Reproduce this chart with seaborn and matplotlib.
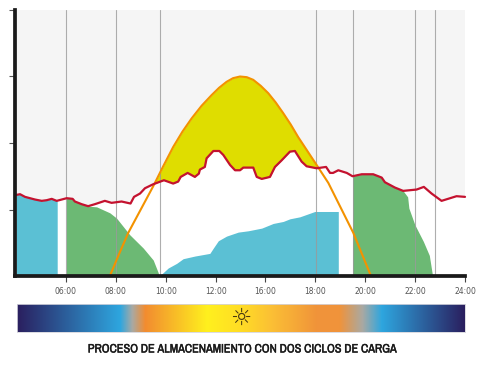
# almacenamiento chart: sun curve, consumption line and two charge cycles

import numpy as np
import pandas as pd
import matplotlib
matplotlib.use('Agg')
import matplotlib.pyplot as plt
import matplotlib.patheffects as pe
from matplotlib import font_manager
from matplotlib.colors import LinearSegmentedColormap
import seaborn as sns

# values (axis hours, axis units)
consumo_h = [4.02, 4.16, 4.36, 4.56, 4.76, 5.03, 5.23, 5.43, 5.63, 5.83, 6.03, 6.27, 6.36, 6.63, 6.89,
             7.16, 7.56, 7.83, 8.23, 8.59, 8.73, 8.97, 9.17, 9.50, 9.93, 10.30, 10.50, 10.60, 10.88,
             11.17, 11.33, 11.37, 11.57, 11.64, 11.91, 12.15, 12.31, 12.58, 12.78, 12.98, 13.11, 13.51,
             13.65, 13.85, 14.18, 14.38, 14.65, 14.98, 15.18, 15.45, 15.65, 16.05, 16.43, 16.59, 16.71,
             16.92, 17.26, 17.49, 17.86, 18.32, 18.66, 18.79, 19.19, 19.52, 20.06, 20.35, 20.66, 21.06,
             21.66, 22.0]
consumo_v = [1.22, 1.23, 1.19, 1.17, 1.15, 1.13, 1.14, 1.16, 1.13, 1.15, 1.17, 1.16, 1.12, 1.08, 1.05,
             1.08, 1.13, 1.10, 1.12, 1.09, 1.19, 1.24, 1.32, 1.38, 1.44, 1.39, 1.42, 1.49, 1.55,
             1.49, 1.54, 1.60, 1.64, 1.77, 1.88, 1.88, 1.82, 1.67, 1.59, 1.59, 1.63, 1.63,
             1.49, 1.46, 1.49, 1.64, 1.74, 1.87, 1.88, 1.72, 1.65, 1.62, 1.64, 1.55, 1.55,
             1.59, 1.55, 1.50, 1.53, 1.53, 1.48, 1.41, 1.33, 1.28, 1.30, 1.34, 1.24, 1.13,
             1.20, 1.19]

sol_h = [7.76, 8.13, 8.50, 9.00, 9.50, 9.90, 10.30, 10.67, 11.04, 11.44, 11.84, 12.14, 12.44, 12.70, 12.98,
         13.25, 13.51, 13.81, 14.11, 14.41, 14.71, 15.01, 15.31, 15.68, 16.05, 16.52, 17.00, 17.52, 17.88, 18.23]
sol_v = [0, 0.33, 0.65, 1.00, 1.35, 1.65, 1.94, 2.17, 2.37, 2.56, 2.72, 2.83, 2.92, 2.975, 3.00,
         2.99, 2.95, 2.86, 2.75, 2.61, 2.45, 2.28, 2.09, 1.88, 1.67, 1.40, 1.04, 0.65, 0.32, 0]

verde1_h = [6.02, 6.27, 6.36, 6.63, 6.89, 7.23, 7.76, 8.03, 8.56, 9.10, 9.50, 9.70, 9.73]
verde1_v = [1.17, 1.16, 1.12, 1.08, 1.05, 1.04, 0.95, 0.87, 0.62, 0.42, 0.24, 0.05, 0]
verde2_h = [17.49, 17.86, 18.32, 18.66, 18.79, 19.19, 19.52, 19.70, 19.75, 19.99, 20.33, 20.57, 20.70]
verde2_v = [1.50, 1.53, 1.53, 1.48, 1.41, 1.33, 1.28, 1.19, 1.02, 0.77, 0.52, 0.31, 0]

azul1_h = [4.0, 4.16, 4.36, 4.56, 4.76, 5.03, 5.23, 5.43, 5.65]
azul1_v = [1.22, 1.23, 1.19, 1.17, 1.15, 1.13, 1.14, 1.16, 1.13]
azul2_h = [9.81, 9.84, 10.10, 10.44, 10.70, 11.17, 11.77, 11.91, 12.11, 12.44, 12.91, 13.31, 13.85,
           14.31, 14.71, 14.98, 15.38, 15.98, 16.92]
azul2_v = [0, 0.03, 0.12, 0.19, 0.26, 0.30, 0.34, 0.42, 0.53, 0.60, 0.66, 0.68, 0.72,
           0.79, 0.82, 0.86, 0.89, 0.97, 0.97]

guias_h = [6, 8, 9.76, 16.02, 17.49, 20, 20.78]
ticks_h = [6, 8, 10, 12, 14, 16, 18, 20, 22]
# the picture really does go from 12:00 to 16:00 in one step
tick_labels = ['06:00', '08:00', '10:00', '12:00', '16:00', '18:00', '20:00', '22:00', '24:00']
titulo = 'PROCESO DE ALMACENAMIENTO CON DOS CICLOS DE CARGA'

dia_pos = [0, 0.23, 0.257, 0.286, 0.424, 0.498, 0.57, 0.67, 0.72, 0.772, 0.815, 1]
dia_col = ['#2a1f5f', '#2ea6df', '#a9a9a3', '#f28c30', '#fff01e', '#ffdd25', '#fbbf35',
           '#f0933a', '#f0933a', '#a9a9a3', '#2ea6df', '#2a1f5f']

sns.set_theme(style='white')
plt.rcParams['font.family'] = ['DejaVu Sans']

W, H = 480, 366
fig = plt.figure(figsize=(W / 100, H / 100), dpi=100, facecolor='white')
ax = fig.add_axes([15.3 / W, 1 - 276 / H, (465 - 15.3) / W, 266 / H])
ax.set_facecolor('#f5f5f5')

# layers: yellow under the sun, white under the consumption line, then the charges
ax.fill_between(sol_h, sol_v, 0, color='#dfdd00', lw=0, zorder=1)
ax.fill_between(consumo_h, consumo_v, 0, color='white', lw=0, zorder=2)
ax.fill_between(verde1_h, verde1_v, 0, color='#6cb974', lw=0, zorder=3)
ax.fill_between(verde2_h, verde2_v, 0, color='#6cb974', lw=0, zorder=3)
ax.fill_between(azul1_h, azul1_v, 0, color='#5bc0d4', lw=0, zorder=3)
ax.fill_between(azul2_h, azul2_v, 0, color='#5bc0d4', lw=0, zorder=3)

for g in guias_h:
    ax.axvline(g, color='#9a9a9a', lw=0.8, alpha=0.8, zorder=4)

sol_df = pd.DataFrame({'h': sol_h, 'v': sol_v})
consumo_df = pd.DataFrame({'h': consumo_h, 'v': consumo_v})
sns.lineplot(data=sol_df, x='h', y='v', color='#f39200', lw=1.5, zorder=5, ax=ax)
sns.lineplot(data=consumo_df, x='h', y='v', color='#c4122f', lw=1.6, zorder=6, ax=ax, clip_on=False,
             solid_joinstyle='round')

ax.set_xlim(3.97, 22)
ax.set_ylim(0, 4)
ax.set_xlabel('')
ax.set_ylabel('')
ax.set_xticks(ticks_h)
ax.set_xticklabels(tick_labels)
ax.set_yticks([1, 2, 3, 4])
ax.set_yticklabels([])
ax.tick_params(axis='x', length=4.5, width=0.8, color='#444444', labelcolor='#555555', labelsize=5.5, pad=3.5)
ax.tick_params(axis='y', length=4.5, width=0.8, color='#555555', pad=1)
ax.xaxis.set_ticks_position('bottom')
ax.yaxis.set_ticks_position('left')
sns.despine(ax=ax, top=True, right=True)
for s in ['left', 'bottom']:
    ax.spines[s].set_color('#1a1a1a')
    ax.spines[s].set_linewidth(2.7)
    ax.spines[s].set_zorder(8)

# day gradient bar
cax = fig.add_axes([17 / W, 1 - 332 / H, 448 / W, 28 / H])
cmap = LinearSegmentedColormap.from_list('dia', list(zip(dia_pos, dia_col)), N=448)
cax.imshow(np.linspace(0, 1, 448)[None, :], cmap=cmap, aspect='auto', extent=[0, 1, 0, 1])
cax.set_xticks([])
cax.set_yticks([])
for s in cax.spines.values():
    s.set_color('#d4d4dc')
    s.set_linewidth(0.6)
cax.text(0.498, 0.5, '\u263c', ha='center', va='center', fontsize=17, color='#4a3a10')

# title in a narrow face if one is installed, sized to the reference width
nombres = sorted(f.name for f in font_manager.fontManager.ttflist
                 if 'Narrow' in f.name or 'Condensed' in f.name)
familia = nombres[0] if nombres else 'Liberation Sans'
t = fig.text(241 / W, 1 - 349 / H, titulo, ha='center', va='center', fontsize=9, fontweight='bold',
             family=familia, color='#1a1a1a')
ancho = t.get_window_extent(fig.canvas.get_renderer()).width
t.set_fontsize(9 * 308 / ancho)
# the narrow face comes out light, thicken it
t.set_path_effects([pe.withStroke(linewidth=0.3, foreground='#1a1a1a')])

plt.savefig('out.png', dpi=100)
